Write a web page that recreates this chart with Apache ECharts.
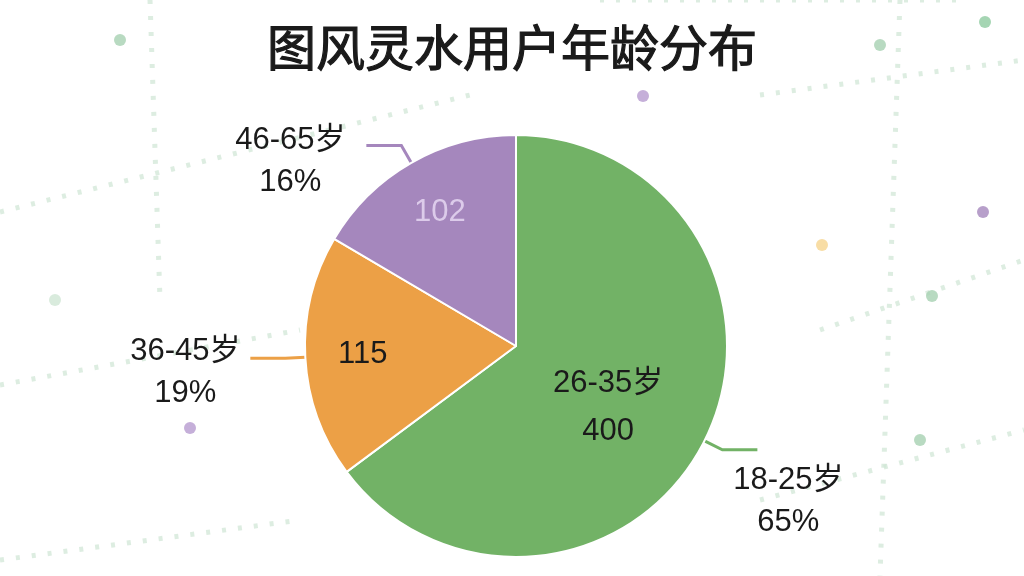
<!DOCTYPE html>
<html>
<head>
<meta charset="utf-8">
<script src="https://cdn.jsdelivr.net/npm/echarts@6/dist/echarts.min.js"></script>
<style>
html,body{margin:0;padding:0;background:#ffffff;}
#chart{width:1024px;height:576px;}
</style>
</head>
<body>
<div id="chart"></div>
<script>
// Data
var categories = ["18-25岁", "36-45岁", "46-65岁"];
var values = [400, 115, 102];
var innerTitles = ["26-35岁", "", ""];
var colors = ["#72b266", "#eca046", "#a587bd"];
var titleText = "图风灵水用户年龄分布";

var FONT = '"Liberation Sans", "Noto Sans CJK SC", sans-serif';
var chart = echarts.init(document.getElementById('chart'));

var mainData = categories.map(function (c, i) {
  return { name: c, value: values[i], itemStyle: { color: colors[i] } };
});
var overlayData = categories.map(function (c, i) {
  return {
    name: c, value: values[i],
    label: { color: i === 2 ? '#dccbea' : '#1a1a1a' }
  };
});

// decorative faint dotted background lines
var deco = [];
var lines = [
  [[0, 212], [470, 95]], [[0, 385], [300, 330]], [[760, 500], [1024, 430]],
  [[820, 330], [1024, 260]], [[600, 0], [960, 0]], [[0, 560], [300, 520]],
  [[760, 95], [1024, 60]], [[900, 0], [880, 576]], [[150, 0], [160, 300]]
];
lines.forEach(function (l) {
  deco.push({
    type: 'line', silent: true, z: -10,
    shape: { x1: l[0][0], y1: l[0][1], x2: l[1][0], y2: l[1][1] },
    style: { stroke: '#cfe6d4', lineWidth: 5, lineDash: [4, 12], opacity: 0.7 }
  });
});
var dots = [[120, 40], [880, 45], [985, 22], [643, 96], [983, 212], [822, 245], [932, 296], [190, 428], [920, 440], [55, 300]];
var dotColors = ['#a6d1b2', '#a6d1b2', '#8fcba0', '#b79bd0', '#a587bd', '#f6d58e', '#a6d1b2', '#b79bd0', '#a6d1b2', '#cfe6d4'];
dots.forEach(function (d, i) {
  deco.push({
    type: 'circle', silent: true, z: -10,
    shape: { cx: d[0], cy: d[1], r: 6 },
    style: { fill: dotColors[i], opacity: 0.8 }
  });
});

var option = {
  backgroundColor: '#ffffff',
  animation: false,
  graphic: deco,
  title: {
    text: titleText,
    left: 'center',
    top: 18,
    textStyle: {
      fontSize: 49,
      fontWeight: 'normal',
      color: '#1a1a1a',
      textBorderColor: '#1a1a1a',
      textBorderWidth: 1.2,
      fontFamily: '"Noto Sans CJK SC", sans-serif'
    }
  },
  series: [
    {
      type: 'pie',
      center: [516, 346],
      radius: 211,
      startAngle: 90,
      clockwise: true,
      percentPrecision: 0,
      data: mainData,
      itemStyle: { borderColor: '#ffffff', borderWidth: 2 },
      label: {
        show: true,
        position: 'outside',
        formatter: '{t|{b}}\n{t|{d}%}',
        color: '#1a1a1a',
        rich: {
          t: {
            width: 150, align: 'center', fontSize: 31, lineHeight: 42,
            color: '#1a1a1a', fontFamily: FONT
          }
        }
      },
      labelLine: { show: true, length: 20, length2: 35, lineStyle: { width: 3 } },
      labelLayout: function (p) {
        if (p.dataIndex === 0) return { dx: -49, dy: 52 };
        if (p.dataIndex === 1) return { dx: 15, dy: 14 };
        if (p.dataIndex === 2) return { dx: 4, dy: 16 };
        return {};
      },
      emphasis: { disabled: true }
    },
    {
      type: 'pie',
      center: [516, 346],
      radius: [90, 211],
      startAngle: 90,
      clockwise: true,
      silent: true,
      data: overlayData,
      itemStyle: { color: 'rgba(0,0,0,0)' },
      label: {
        show: true,
        position: 'inside',
        fontSize: 31,
        lineHeight: 48,
        fontFamily: FONT,
        formatter: function (p) {
          var t = innerTitles[p.dataIndex];
          return t ? t + '\n' + p.value : String(p.value);
        }
      },
      labelLine: { show: false },
      labelLayout: function (p) {
        if (p.dataIndex === 0) return { dx: -45, dy: -8 };
        return {};
      },
      emphasis: { disabled: true },
      z: 3
    }
  ]
};
chart.setOption(option);
</script>
</body>
</html>
